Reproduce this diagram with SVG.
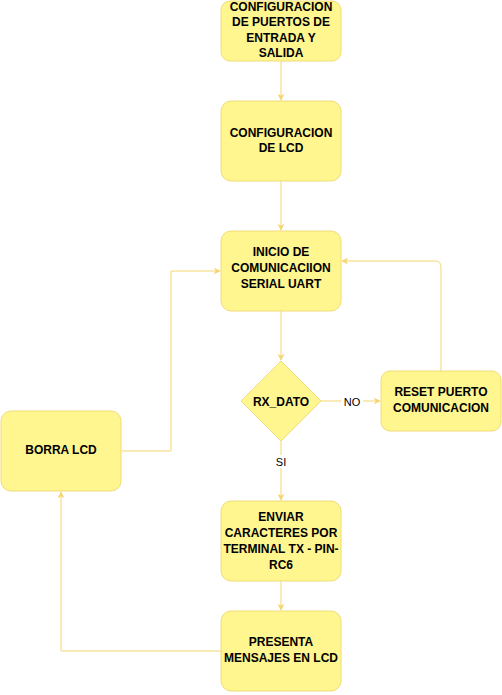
<svg xmlns="http://www.w3.org/2000/svg" width="502" height="695" viewBox="0 0 502 695">
<style>
.n{fill:#fff68f;stroke:#f0dc78;stroke-width:1}
.t{font-family:"Liberation Sans",Arial,sans-serif;font-size:12px;font-weight:bold;fill:#000;text-anchor:middle}
.l{font-family:"Liberation Sans",Arial,sans-serif;font-size:11px;fill:#000;text-anchor:middle}
.e{fill:none;stroke:#f5d56e;stroke-width:1}
</style>
<defs>
<marker id="a" viewBox="0 0 10 10" refX="9" refY="5" markerWidth="7" markerHeight="7" orient="auto" markerUnits="userSpaceOnUse">
<path d="M0,0 L10,5 L0,10 L3,5 Z" fill="#f5d56e"/>
</marker>
</defs>
<g id="connectors">
<path class="e" d="M281,61 L281,100" marker-end="url(#a)"/>
<path class="e" d="M281,181 L281,230" marker-end="url(#a)"/>
<path class="e" d="M281,311 L281,360" marker-end="url(#a)"/>
<path class="e" d="M321,401 L380,401" marker-end="url(#a)"/>
<path class="e" d="M441,371 L441,267 Q441,261 435,261 L342,261" marker-end="url(#a)"/>
<path class="e" d="M281,441 L281,500" marker-end="url(#a)"/>
<path class="e" d="M281,581 L281,610" marker-end="url(#a)"/>
<path class="e" d="M221,651 L61,651 L61,492" marker-end="url(#a)"/>
<path class="e" d="M121,451 L171,451 L171,271 L220,271" marker-end="url(#a)"/>
<rect x="341" y="395" width="22" height="13" fill="#fff"/>
<text class="l" x="352" y="406">NO</text>
<rect x="272" y="455" width="18" height="13" fill="#fff"/>
<text class="l" x="281" y="466">SI</text>
</g>
<g id="n1">
<rect class="n" x="221" y="1" width="120" height="60" rx="9"/>
<text class="t" x="281" y="11">CONFIGURACION</text>
<text class="t" x="281" y="25.5">DE PUERTOS DE</text>
<text class="t" x="281" y="41.5">ENTRADA Y</text>
<text class="t" x="281" y="56.5">SALIDA</text>
</g>
<g id="n2">
<rect class="n" x="221" y="101" width="120" height="80" rx="10"/>
<text class="t" x="281" y="136.5">CONFIGURACION</text>
<text class="t" x="281" y="151.5">DE LCD</text>
</g>
<g id="n3">
<rect class="n" x="221" y="231" width="120" height="80" rx="10"/>
<text class="t" x="281" y="255.5">INICIO DE</text>
<text class="t" x="281" y="271.5">COMUNICACIION</text>
<text class="t" x="281" y="287.5">SERIAL UART</text>
</g>
<g id="n4">
<path class="n" d="M281,361 L321,401 L281,441 L241,401 Z"/>
<text class="t" x="281" y="405.5">RX_DATO</text>
</g>
<g id="n5">
<rect class="n" x="381" y="371" width="120" height="60" rx="9"/>
<text class="t" x="441" y="395.5">RESET PUERTO</text>
<text class="t" x="441" y="411.5">COMUNICACION</text>
</g>
<g id="n6">
<rect class="n" x="1" y="411" width="120" height="80" rx="10"/>
<text class="t" x="61" y="453.5">BORRA LCD</text>
</g>
<g id="n7">
<rect class="n" x="221" y="501" width="120" height="80" rx="10"/>
<text class="t" x="281" y="520.5">ENVIAR</text>
<text class="t" x="281" y="536.5">CARACTERES POR</text>
<text class="t" x="281" y="552.5">TERMINAL TX - PIN-</text>
<text class="t" x="281" y="568.5">RC6</text>
</g>
<g id="n8">
<rect class="n" x="221" y="611" width="120" height="80" rx="10"/>
<text class="t" x="281" y="645.5">PRESENTA</text>
<text class="t" x="281" y="661.5">MENSAJES EN LCD</text>
</g>
</svg>
